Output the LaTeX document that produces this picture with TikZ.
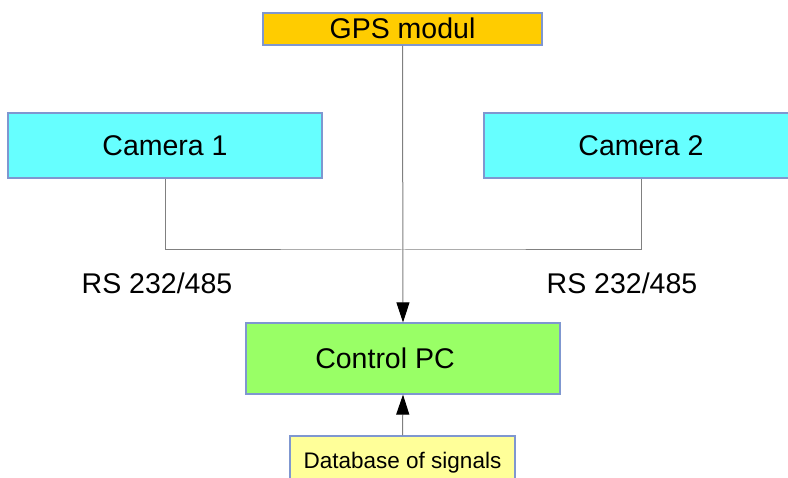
\documentclass[tikz,border=0pt]{standalone}
\usepackage{fontspec}
\setmainfont{Liberation Sans}
\usetikzlibrary{arrows.meta}

\definecolor{gpsfill}{HTML}{FFCC00}
\definecolor{camfill}{HTML}{66FFFF}
\definecolor{pcfill}{HTML}{99FF66}
\definecolor{dbfill}{HTML}{FFFF99}
\definecolor{boxline}{HTML}{7F97D0}
\definecolor{wireline}{HTML}{808080}

\tikzset{
  box/.style={draw=boxline, line width=1.2pt, inner sep=0pt,
    font=\fontsize{28.5}{32}\selectfont, text height=20pt, text depth=0pt},
  gpsbox/.style={box, fill=gpsfill, minimum width=279pt, minimum height=32pt},
  cambox/.style={box, fill=camfill, minimum width=314pt, minimum height=65pt},
  pcbox/.style={box, fill=pcfill, minimum width=314pt, minimum height=71pt},
  dbbox/.style={box, fill=dbfill, minimum width=225pt, minimum height=50pt,
    font=\fontsize{22.5}{26}\selectfont, text height=16pt},
  rslabel/.style={font=\fontsize{28.5}{32}\selectfont, inner sep=0pt},
  wire/.style={draw=wireline, line width=1pt},
  arrow/.style={wire, -{Triangle[length=20pt,width=13pt,color=black]}}
}

\begin{document}
\begin{tikzpicture}[x=1pt,y=-1pt]
    \useasboundingbox (0,0) rectangle (788,478);
    \clip (0,0) rectangle (788,478);

    \node[gpsbox] (gps) at (402.5,29) {GPS modul};

    \foreach \i/\x in {1/165,2/641}
      {
        \node[cambox] (cam\i) at (\x,145.5) {Camera \i};
      }

    \foreach \i/\x in {1/157,2/622}
      {
        \node[rslabel] (rs\i) at (\x,283) {RS 232/485};
      }

    \node[pcbox] (pc) at (403,358.5) {Control PC\hspace*{36pt}};
    \node[dbbox] (db) at (402.5,461) {Database of signals};

    \coordinate (bus) at (403,250);
    \draw[wire] (cam1.south) |- (bus) -| (cam2.south);
    \draw[arrow] (gps.south) -- (pc.north);
    \draw[arrow] (db.north) -- (pc.south);
  \end{tikzpicture}
\end{document}
